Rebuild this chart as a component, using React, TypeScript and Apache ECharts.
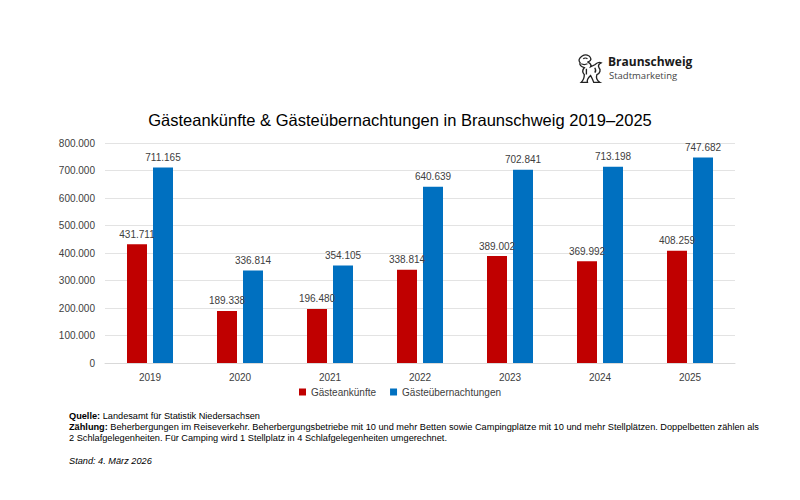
import React, { useEffect, useRef } from "react";
import * as echarts from "echarts";

const years = ["2019", "2020", "2021", "2022", "2023", "2024", "2025"];
const arrivals = [431711, 189338, 196480, 338814, 389002, 369992, 408259];
const overnights = [711165, 336814, 354105, 640639, 702841, 713198, 747682];
const seriesNames = ["Gästeankünfte", "Gästeübernachtungen"];
const titleText = "Gästeankünfte & Gästeübernachtungen in Braunschweig 2019–2025";
const sourceText = "Landesamt für Statistik Niedersachsen";
const countLine1 =
  "Beherbergungen im Reiseverkehr. Beherbergungsbetriebe mit 10 und mehr Betten sowie Campingplätze mit 10 und mehr Stellplätzen. Doppelbetten zählen als";
const countLine2 = "2 Schlafgelegenheiten. Für Camping wird 1 Stellplatz in 4 Schlafgelegenheiten umgerechnet.";
const standText = "Stand: 4. März 2026";

const lionPath =
  "M4 2 C7 0 11 1 12 4 C13 6 11 8 9 8 C11 9 13 11 12 13 L16 11 C18 9 20 8 22 9 C20 10 19 12 20 14 C22 16 21 20 18 21 C17 24 18 27 21 29 L15 29 C14 26 13 24 12 22 C10 24 8 26 9 29 L3 29 C5 27 6 24 6 21 C4 19 4 16 6 14 C3 13 1 11 2 9 C0 7 1 4 4 2 Z M5 5 C6 4 8 4 9 5 M3 10 C5 11 7 11 9 10 M8 15 L8 21 M16 14 C17 16 17 18 16 19";

const fmt = (v: number) => {
  if (v === 0) return "0";
  return String(Math.round(v)).replace(/\B(?=(\d{3})+(?!\d))/g, ".");
};

export default function App() {
  const ref = useRef<HTMLDivElement>(null);
  useEffect(() => {
    if (!ref.current) return;
    echarts.graphic.registerShape("logo", echarts.graphic.extendPath(lionPath, {}) as any);
    const chart = echarts.init(ref.current, null, { renderer: "svg" });
    const font = "Liberation Sans, Arial, sans-serif";
    const noteSize = 9.2;
    const labelCommon = {
      show: true,
      position: "top" as const,
      distance: 5,
      fontSize: 10,
      color: "#404040",
      fontFamily: font,
      formatter: (p: any) => fmt(p.value),
    };
    chart.setOption({
      animation: false,
      backgroundColor: "#ffffff",
      textStyle: { fontFamily: font },
      title: {
        text: titleText,
        left: "center",
        top: 106,
        textStyle: { fontSize: 16.5, fontWeight: "normal", color: "#000000", fontFamily: font },
      },
      legend: {
        data: seriesNames,
        bottom: 98,
        left: "center",
        icon: "rect",
        itemWidth: 7,
        itemHeight: 7,
        itemGap: 14,
        textStyle: { fontSize: 10, color: "#404040", fontFamily: font },
      },
      grid: { left: 105, right: 65, top: 143, bottom: 137, containLabel: false },
      xAxis: {
        type: "category",
        data: years,
        axisLine: { lineStyle: { color: "#d9d9d9" } },
        axisTick: { show: false },
        axisLabel: { fontSize: 10, color: "#404040", margin: 9, fontFamily: font },
      },
      yAxis: {
        type: "value",
        min: 0,
        max: 800000,
        interval: 100000,
        axisLine: { show: false },
        axisTick: { show: false },
        splitLine: { lineStyle: { color: "#e3e3e3" } },
        axisLabel: { fontSize: 10, color: "#404040", margin: 10, fontFamily: font, formatter: fmt },
      },
      series: [
        {
          name: seriesNames[0],
          type: "bar",
          data: arrivals,
          barWidth: 20,
          barGap: "30%",
          itemStyle: { color: "#C00000" },
          label: labelCommon,
        },
        {
          name: seriesNames[1],
          type: "bar",
          data: overnights,
          barWidth: 20,
          barGap: "30%",
          itemStyle: { color: "#0070C0" },
          label: labelCommon,
        },
      ],
      graphic: [
        {
          type: "logo",
          x: 578,
          y: 54,
          scaleX: 1.05,
          scaleY: 0.98,
          style: { fill: "none", stroke: "#222222", lineWidth: 1.3 },
        },
        {
          type: "text",
          x: 608,
          y: 55,
          style: { text: "Braunschweig", fontSize: 12, lineHeight: 13, fontWeight: "bold", fill: "#1a1a1a", fontFamily: "Open Sans, sans-serif" },
        },
        {
          type: "text",
          x: 609,
          y: 70,
          style: { text: "Stadtmarketing", fontSize: 9.5, lineHeight: 11, fill: "#444444", fontFamily: "Open Sans, sans-serif" },
        },
        {
          type: "text",
          x: 69,
          y: 411,
          style: {
            text: "{b|Quelle:} " + sourceText,
            rich: {
              b: { fontWeight: "bold", fontSize: noteSize, fill: "#000", fontFamily: font },
            },
            fontSize: noteSize,
            fill: "#000",
            fontFamily: font,
          },
        },
        {
          type: "text",
          x: 69,
          y: 422,
          style: {
            text: "{b|Zählung:} " + countLine1,
            rich: {
              b: { fontWeight: "bold", fontSize: noteSize, fill: "#000", fontFamily: font },
            },
            fontSize: noteSize,
            fill: "#000",
            fontFamily: font,
          },
        },
        {
          type: "text",
          x: 69,
          y: 433,
          style: { text: countLine2, fontSize: noteSize, fill: "#000", fontFamily: font },
        },
        {
          type: "text",
          x: 69,
          y: 456,
          style: { text: standText, fontSize: noteSize, fontStyle: "italic", fill: "#000", fontFamily: font },
        },
      ],
    });
    return () => chart.dispose();
  }, []);
  return <div ref={ref} style={{ width: 800, height: 500, position: "absolute", left: 0, top: 0 }} />;
}
